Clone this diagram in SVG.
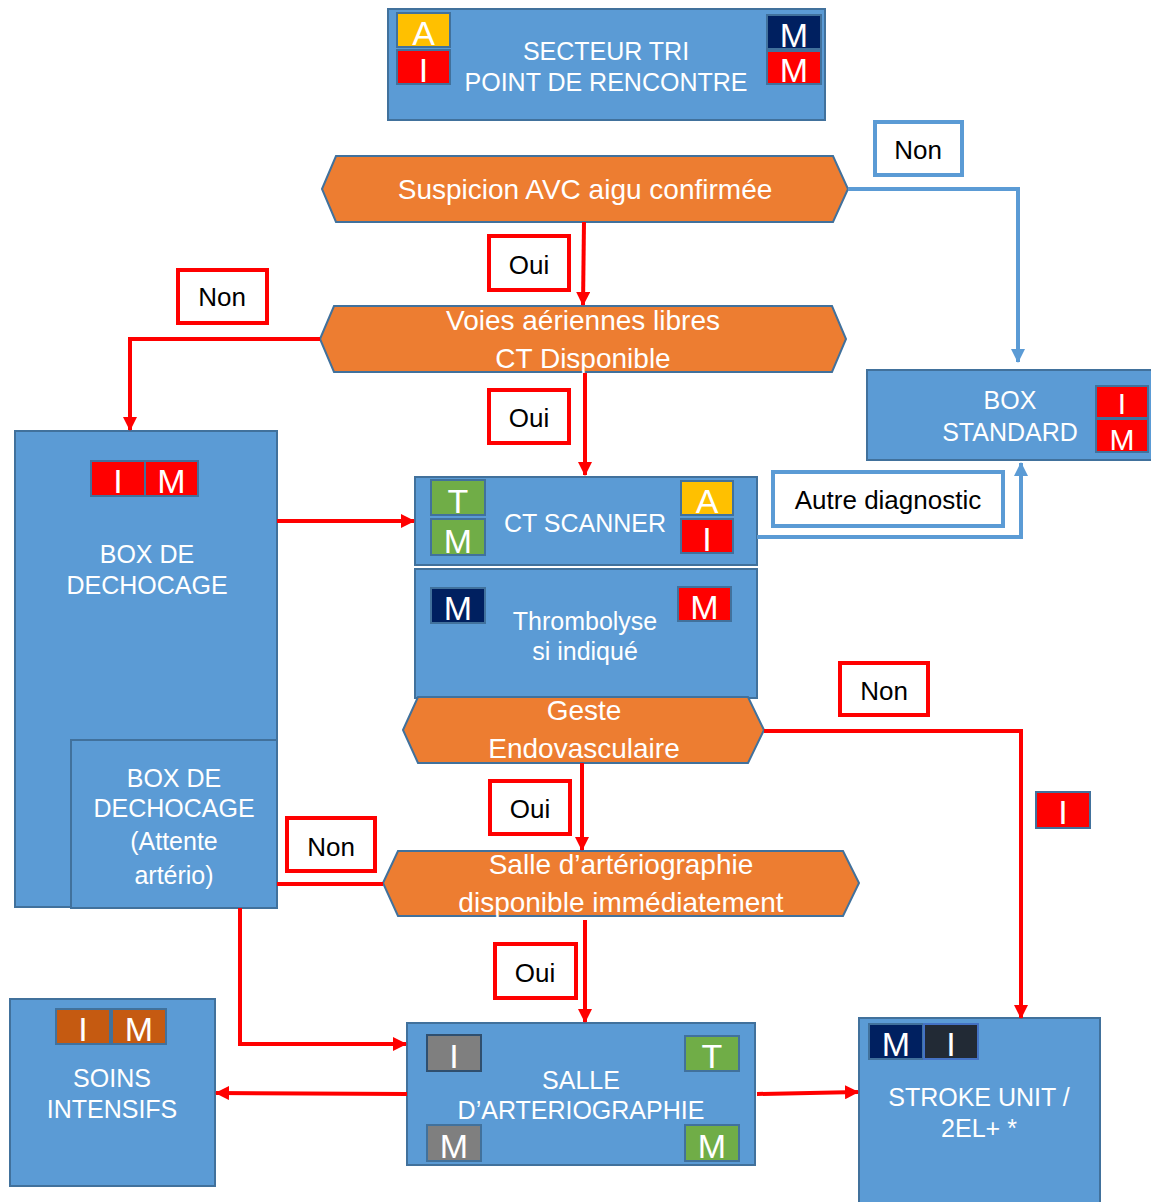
<svg xmlns="http://www.w3.org/2000/svg" width="1151" height="1202" viewBox="0 0 1151 1202">
<defs>
<style>
.box{fill:#5B9BD5;stroke:#41719C;stroke-width:2}
.hex{fill:#ED7D31;stroke:#41719C;stroke-width:2}
.nt{fill:#fff;font-family:"Liberation Sans",Arial,sans-serif;font-size:25px;text-anchor:middle}
.ht{fill:#fff;font-family:"Liberation Sans",Arial,sans-serif;font-size:28px;text-anchor:middle}
.bt{fill:#fff;font-family:"Liberation Sans",Arial,sans-serif;font-size:34px;text-anchor:middle}
.b{stroke:#41719C;stroke-width:2}
.red{fill:#FF0000}.yel{fill:#FFC000}.navy{fill:#002060}.grn{fill:#70AD47}.gry{fill:#7F7F7F}.brn{fill:#C55A11}.drk{fill:#222A35}
.lr{fill:#fff;stroke:#FF0000;stroke-width:4}
.lb{fill:#fff;stroke:#5B9BD5;stroke-width:4}
.lt{fill:#000;font-family:"Liberation Sans",Arial,sans-serif;font-size:26px;text-anchor:middle}
.cr{fill:none;stroke:#FF0000;stroke-width:4}
.cb{fill:none;stroke:#5B9BD5;stroke-width:4}
</style>
<marker id="ar" markerUnits="userSpaceOnUse" markerWidth="14" markerHeight="14" refX="13" refY="7" orient="auto"><path d="M0,0 L14,7 L0,14 z" fill="#FF0000"/></marker>
<marker id="ab" markerUnits="userSpaceOnUse" markerWidth="14" markerHeight="14" refX="13" refY="7" orient="auto"><path d="M0,0 L14,7 L0,14 z" fill="#5B9BD5"/></marker>
</defs>
<rect width="1151" height="1202" fill="#fff"/>

<g id="secteur-tri">
<rect class="box" x="388" y="9" width="437" height="111"/>
<rect class="b yel" x="397" y="13" width="53" height="34"/><text class="bt" x="423.5" y="45">A</text>
<rect class="b red" x="397" y="50" width="53" height="34"/><text class="bt" x="423.5" y="82">I</text>
<rect class="b navy" x="767" y="15" width="54" height="34"/><text class="bt" x="794" y="47">M</text>
<rect class="b red" x="767" y="51" width="54" height="33"/><text class="bt" x="794" y="82">M</text>
<text class="nt" x="606" y="60">SECTEUR TRI</text>
<text class="nt" x="606" y="91">POINT DE RENCONTRE</text>
</g>

<g id="suspicion">
<polygon class="hex" points="322,189 336,156 833,156 848,189 833,222 336,222"/>
<text class="ht" x="585" y="199">Suspicion AVC aigu confirmée</text>
</g>

<g id="voies">
<polygon class="hex" points="320,339 334,306 832,306 846,339 832,372 334,372"/>
<text class="ht" x="583" y="330">Voies aériennes libres</text>
<text class="ht" x="583" y="368">CT Disponible</text>
</g>

<g id="box-standard">
<rect class="box" x="867" y="370" width="290" height="90"/>
<text class="nt" x="1010" y="409">BOX</text>
<text class="nt" x="1010" y="441">STANDARD</text>
<rect class="b red" x="1096" y="386" width="52" height="32"/><text class="bt" x="1122" y="414" style="font-size:30px">I</text>
<rect class="b red" x="1096" y="419" width="52" height="33"/><text class="bt" x="1122" y="450" style="font-size:30px">M</text>
</g>

<g id="box-dechocage">
<rect class="box" x="15" y="431" width="262" height="476"/>
<rect class="b red" x="91" y="461" width="54" height="35"/><text class="bt" x="118" y="493">I</text>
<rect class="b red" x="145" y="461" width="53" height="35"/><text class="bt" x="171.5" y="493">M</text>
<text class="nt" x="147" y="563">BOX DE</text>
<text class="nt" x="147" y="594">DECHOCAGE</text>
</g>

<g id="box-dechocage-attente">
<rect class="box" x="71" y="740" width="206" height="168"/>
<text class="nt" x="174" y="787">BOX DE</text>
<text class="nt" x="174" y="817">DECHOCAGE</text>
<text class="nt" x="174" y="850">(Attente</text>
<text class="nt" x="174" y="884">artério)</text>
</g>

<g id="ct-scanner">
<rect class="box" x="415" y="477" width="342" height="88"/>
<rect class="b grn" x="431" y="480" width="54" height="35"/><text class="bt" x="458" y="513">T</text>
<rect class="b grn" x="431" y="519" width="54" height="36"/><text class="bt" x="458" y="553">M</text>
<rect class="b yel" x="681" y="481" width="52" height="34"/><text class="bt" x="707" y="513">A</text>
<rect class="b red" x="681" y="519" width="52" height="34"/><text class="bt" x="707" y="551">I</text>
<text class="nt" x="585" y="532">CT SCANNER</text>
</g>

<g id="thrombolyse">
<rect class="box" x="415" y="569" width="342" height="129"/>
<rect class="b navy" x="431" y="588" width="54" height="35"/><text class="bt" x="458" y="620">M</text>
<rect class="b red" x="678" y="587" width="53" height="34"/><text class="bt" x="704.5" y="619">M</text>
<text class="nt" x="585" y="630">Thrombolyse</text>
<text class="nt" x="585" y="660">si indiqué</text>
</g>

<g id="geste">
<polygon class="hex" points="403,730 418,697 748,697 764,730 748,763 418,763"/>
<text class="ht" x="584" y="720">Geste</text>
<text class="ht" x="584" y="758">Endovasculaire</text>
</g>

<g id="salle-dispo">
<polygon class="hex" points="383,883 398,851 843,851 859,883 843,916 398,916"/>
<text class="ht" x="621" y="874">Salle d’artériographie</text>
<text class="ht" x="621" y="912">disponible immédiatement</text>
</g>

<g id="salle-arteriographie">
<rect class="box" x="407" y="1023" width="348" height="142"/>
<rect class="gry" x="427" y="1035" width="54" height="36" stroke="#2F4F6F" stroke-width="2"/><text class="bt" x="454" y="1068">I</text>
<rect class="b grn" x="685" y="1036" width="54" height="35"/><text class="bt" x="712" y="1068">T</text>
<rect class="b gry" x="427" y="1125" width="54" height="36"/><text class="bt" x="454" y="1158">M</text>
<rect class="b grn" x="685" y="1125" width="54" height="36"/><text class="bt" x="712" y="1158">M</text>
<text class="nt" x="581" y="1089">SALLE</text>
<text class="nt" x="581" y="1119">D’ARTERIOGRAPHIE</text>
</g>

<g id="soins-intensifs">
<rect class="box" x="10" y="999" width="205" height="187"/>
<rect class="b brn" x="56" y="1009" width="54" height="35"/><text class="bt" x="83" y="1041">I</text>
<rect class="b brn" x="112" y="1009" width="54" height="35"/><text class="bt" x="139" y="1041">M</text>
<text class="nt" x="112" y="1087">SOINS</text>
<text class="nt" x="112" y="1118">INTENSIFS</text>
</g>

<g id="stroke-unit">
<rect class="box" x="859" y="1018" width="241" height="190"/>
<rect class="b navy" x="869" y="1024" width="54" height="35"/><text class="bt" x="896" y="1056">M</text>
<rect class="drk" x="924" y="1024" width="54" height="35" stroke="#4472C4" stroke-width="2"/><text class="bt" x="951" y="1056">I</text>
<text class="nt" x="979" y="1106">STROKE UNIT /</text>
<text class="nt" x="979" y="1137">2EL+ *</text>
</g>

<g id="connectors">
<path class="cr" d="M584 222 L583 305" marker-end="url(#ar)"/>
<path class="cr" d="M320 339 H130 V430" marker-end="url(#ar)"/>
<path class="cr" d="M585 373 V475" marker-end="url(#ar)"/>
<path class="cb" d="M848 189 H1018 V362" marker-end="url(#ab)"/>
<path class="cr" d="M277 521 H414" marker-end="url(#ar)"/>
<path class="cb" d="M757 537 H1021 V463" marker-end="url(#ab)"/>
<path class="cr" d="M764 731 H1021 V1018" marker-end="url(#ar)"/>
<path class="cr" d="M582 763 V850" marker-end="url(#ar)"/>
<path class="cr" d="M383 884 H277"/>
<path class="cr" d="M240 908 V1044 H406" marker-end="url(#ar)"/>
<path class="cr" d="M585 920 V1022" marker-end="url(#ar)"/>
<path class="cr" d="M407 1094 L216 1093" marker-end="url(#ar)"/>
<path class="cr" d="M757 1094 L858 1092" marker-end="url(#ar)"/>
</g>

<g id="labels">
<rect class="lr" x="489" y="236" width="80" height="54"/><text class="lt" x="529" y="274">Oui</text>
<rect class="lr" x="178" y="270" width="89" height="53"/><text class="lt" x="222" y="306">Non</text>
<rect class="lr" x="489" y="390" width="80" height="53"/><text class="lt" x="529" y="427">Oui</text>
<rect class="lb" x="875" y="122" width="87" height="53"/><text class="lt" x="918" y="159">Non</text>
<rect class="lb" x="773" y="472" width="230" height="54"/><text class="lt" x="888" y="509">Autre diagnostic</text>
<rect class="lr" x="840" y="663" width="88" height="52"/><text class="lt" x="884" y="700">Non</text>
<rect class="lr" x="490" y="781" width="80" height="53"/><text class="lt" x="530" y="818">Oui</text>
<rect class="lr" x="287" y="818" width="88" height="53"/><text class="lt" x="331" y="856">Non</text>
<rect class="lr" x="495" y="944" width="81" height="54"/><text class="lt" x="535" y="982">Oui</text>
<rect class="b red" x="1036" y="792" width="54" height="36"/><text class="bt" x="1063" y="824">I</text>
</g>
</svg>
